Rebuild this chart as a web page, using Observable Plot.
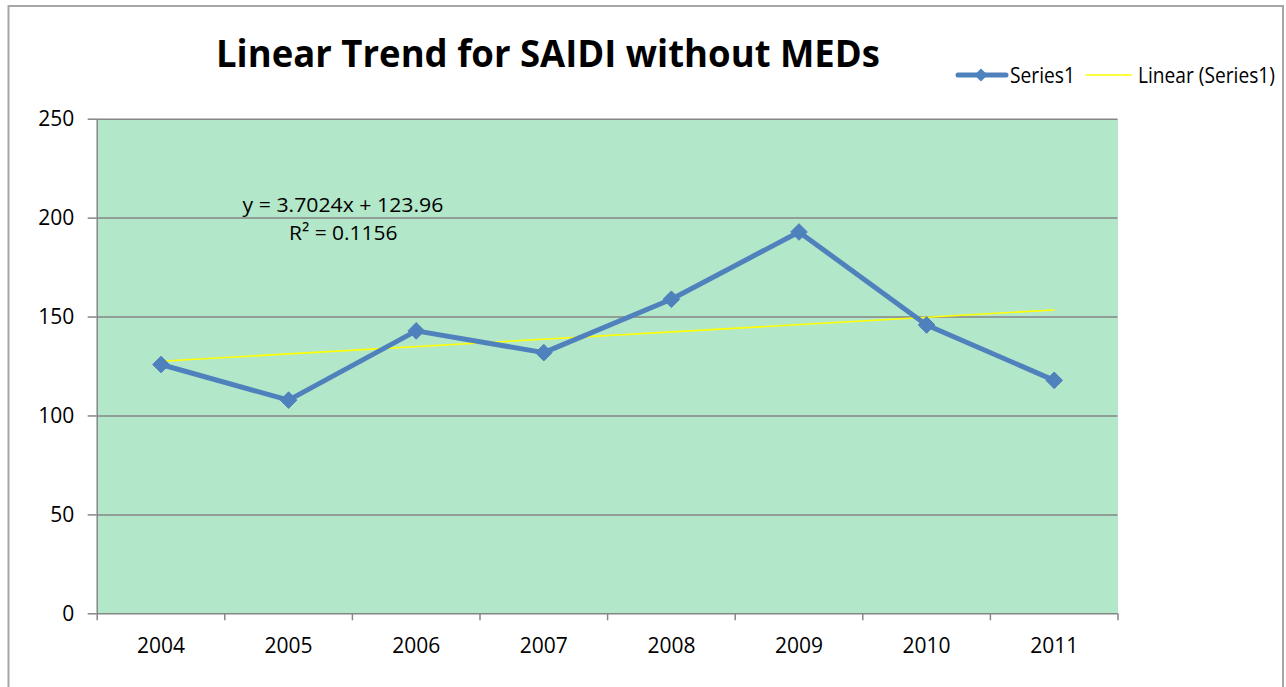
<!DOCTYPE html>
<html>
<head>
<meta charset="utf-8">
<script src="https://cdn.jsdelivr.net/npm/d3@7"></script>
<script src="https://cdn.jsdelivr.net/npm/@observablehq/plot@0.6"></script>
<style>
  html, body { margin: 0; padding: 0; background: #ffffff; }
  #wrap { position: relative; width: 1286px; height: 687px; overflow: hidden; font-family: "Open Sans", sans-serif; }
  #wrap > svg { position: absolute; left: 0; top: 0; }
  #overlay { pointer-events: none; }
</style>
</head>
<body>
<div id="wrap"></div>
<script>
// ---- data ----
const years = ["2004", "2005", "2006", "2007", "2008", "2009", "2010", "2011"];
const saidi = [126, 108, 143, 132, 159, 193, 146, 118];
const yTicks = [0, 50, 100, 150, 200, 250];
const titleText = "Linear Trend for SAIDI without MEDs";
const seriesName = "Series1";
const trendName = "Linear (Series1)";
const equationText = "y = 3.7024x + 123.96";
const r2Text = "R² = 0.1156";

const blue = "#4f81bd";
const yellow = "#ffff00";
const grid = "#868686";
const plotBg = "#b3e7c9";

const data = years.map((yr, k) => ({i: k + 1, year: yr, v: saidi[k]}));
const centers = years.map((_, k) => k + 1);
const bounds = d3.range(0, years.length + 1).map(k => k + 0.5);

const W = 1286, H = 687;
const chart = Plot.plot({
  width: W,
  height: H,
  marginLeft: 96.7,
  marginRight: 168.5,
  marginTop: 118.7,
  marginBottom: 73.7,
  style: {fontFamily: "Open Sans, sans-serif", fontSize: "21px", background: "transparent", color: "#000"},
  x: {type: "linear", domain: [0.5, years.length + 0.5]},
  y: {domain: [0, 250]},
  marks: [
    Plot.frame({fill: plotBg, stroke: "none"}),
    Plot.gridY(yTicks.filter(t => t > 0), {stroke: grid, strokeOpacity: 1, strokeWidth: 1.5}),
    Plot.ruleY([0], {stroke: grid, strokeWidth: 1.5}),
    Plot.ruleX([0.5], {stroke: grid, strokeWidth: 1.5}),
    Plot.axisY(yTicks, {tickSize: 9, tickPadding: 14, stroke: grid, strokeWidth: 1.5, fill: "#000", label: null}),
    Plot.axisX(bounds, {tickSize: 7, tickFormat: () => "", stroke: grid, strokeWidth: 1.5, label: null}),
    Plot.axisX(centers, {tickSize: 0, tickPadding: 24, tickFormat: d => years[d - 1], fill: "#000", label: null}),
    Plot.linearRegressionY(data, {x: "i", y: "v", stroke: yellow, strokeWidth: 1.6, ci: 0}),
    Plot.line(data, {x: "i", y: "v", stroke: blue, strokeWidth: 5, strokeLinejoin: "round", strokeLinecap: "round"}),
    Plot.dot(data, {x: "i", y: "v", symbol: "diamond2", r: 7.5, fill: blue, stroke: blue, strokeWidth: 1})
  ]
});
document.getElementById("wrap").appendChild(chart);

// ---- annotation overlay: border, title, legend, trend equation ----
const ov = d3.select("#wrap").append("svg")
  .attr("id", "overlay")
  .attr("width", W).attr("height", H)
  .style("font-family", "Open Sans, sans-serif");

ov.append("rect")
  .attr("x", 8.5).attr("y", 6).attr("width", 1274.5).attr("height", 720)
  .attr("fill", "none").attr("stroke", "#a6a6a6").attr("stroke-width", 2);

// Text whose natural width matches the target: the font size is chosen to fit
// the width, and the glyphs are stretched vertically back to the wanted height.
function label(text, x, y, size, width, weight) {
  const g = ov.append("g");
  const t = g.append("text")
    .attr("x", 0).attr("y", 0)
    .attr("font-size", size)
    .attr("font-weight", weight || "normal")
    .attr("fill", "#000")
    .text(text);
  const w = t.node().getComputedTextLength();
  const fs = w > 0 ? size * width / w : size;
  t.attr("font-size", fs);
  g.attr("transform", `translate(${x},${y}) scale(1,${size / fs})`);
  return g;
}

label(titleText, 216, 66.7, 38, 664, "bold");

// legend
const ly = 75;
ov.append("line").attr("x1", 958).attr("x2", 1006).attr("y1", ly).attr("y2", ly)
  .attr("stroke", blue).attr("stroke-width", 5).attr("stroke-linecap", "round");
ov.append("path").attr("d", d3.symbol(d3.symbolDiamond2, 110)())
  .attr("transform", `translate(981,${ly})`).attr("fill", blue);
label(seriesName, 1010, 82.7, 22, 65);
ov.append("line").attr("x1", 1085.7).attr("x2", 1132).attr("y1", ly).attr("y2", ly)
  .attr("stroke", yellow).attr("stroke-width", 1.6);
label(trendName, 1138, 82.7, 22, 137);

// trendline equation
label(equationText, 242.6, 211.7, 20, 200.8);
label(r2Text, 289, 240, 20, 108.5);
</script>
</body>
</html>
